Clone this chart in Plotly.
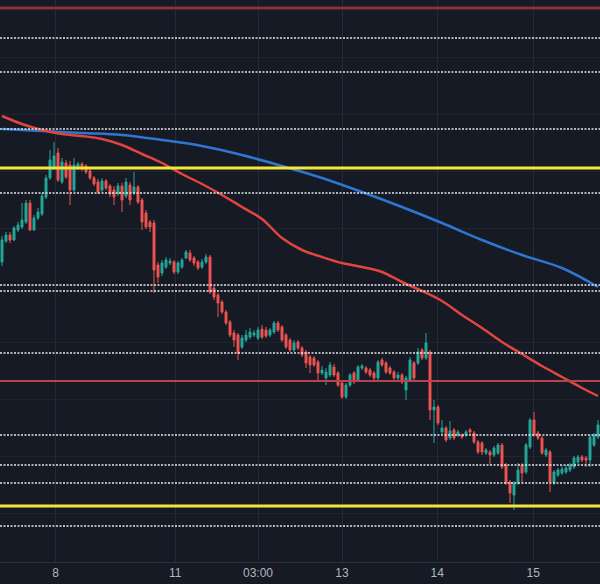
import plotly.graph_objects as go

# ---- data (price units) ----
open_ = [298,319,325,320,330,333,338,357,330,342,
         346,363,382,392,407,378,397,395,370,392,
         396,394,389,382,378,370,379,374,370,366,
         374,364,375,367,373,360,347,338,337,295,
         287,293,297,298,288,293,302,307,302,298,
         293,298,303,272,265,258,248,238,227,225,
         213,220,223,225,222,231,230,225,228,237,
         233,225,220,210,218,212,208,203,202,198,
         187,182,185,193,187,177,163,175,187,180,
         192,192,190,187,182,200,197,192,188,182,
         185,170,180,197,197,210,202,208,150,153,
         128,132,122,130,125,125,125,130,127,118,
         117,107,108,105,107,115,95,78,65,77,
         95,88,113,140,127,122,105,108,77,85,
         87,88,90,93,98,103,102,100,115,123]
high = [324,328,328,334,338,357,360,360,345,352,
        367,385,410,418,412,402,400,399,402,398,
        398,396,391,384,381,382,381,376,374,377,
        377,382,378,388,375,362,350,340,340,298,
        300,303,302,300,299,302,310,310,304,300,
        301,306,305,274,267,260,250,240,230,227,
        225,230,232,230,233,235,233,232,239,239,
        235,227,222,220,220,214,210,205,204,200,
        194,192,198,196,189,179,177,187,189,195,
        196,194,192,189,200,202,199,194,190,188,
        187,184,203,199,212,212,227,210,160,155,
        140,134,139,132,130,127,130,132,129,120,
        119,112,110,114,117,117,97,80,79,97,
        97,117,142,148,129,124,112,110,90,92,
        94,95,97,104,105,105,104,125,127,140]
low = [294,317,317,319,328,331,336,329,329,340,
       344,361,380,390,378,376,381,355,368,390,
       389,386,380,374,366,368,370,363,355,364,
       348,362,355,365,356,330,331,328,267,277,
       284,291,295,286,286,291,301,298,294,290,
       291,296,266,260,243,246,235,223,213,200,
       211,218,221,223,220,221,222,223,226,228,
       218,211,208,208,210,203,192,187,193,180,
       185,175,183,183,173,161,161,173,176,178,
       190,186,183,180,180,193,186,185,180,180,
       176,160,178,180,195,200,200,140,117,135,
       126,118,120,120,123,121,123,126,116,106,
       105,105,95,103,105,91,75,57,50,75,
       77,86,111,123,120,105,103,68,75,83,
       85,86,88,91,96,98,93,93,113,121]
close = [320,325,320,332,335,340,357,330,342,348,
         364,382,400,404,380,398,383,370,395,396,
         391,388,382,376,368,379,372,366,363,374,
         360,378,360,373,358,338,333,333,290,283,
         297,300,299,288,297,300,308,300,297,292,
         298,303,268,263,257,248,237,225,220,207,
         222,225,228,227,230,223,224,230,237,230,
         220,213,210,217,212,205,197,195,195,187,
         190,188,195,185,175,163,175,185,178,193,
         194,188,185,182,198,195,188,187,182,185,
         178,182,200,182,208,202,217,150,153,137,
         132,120,129,122,128,123,128,128,118,108,
         108,110,105,112,115,93,77,67,77,90,
         87,115,140,125,122,107,110,78,88,90,
         91,92,94,102,103,100,100,123,125,135]
bars = list(range(len(close)))

ma_fast_x = [0,5,10,15,20,25,30,35,40,45,50,55,60,65,70,75,80,85,90,95,
             100,105,110,115,120,125,130,135,140,145,149]
ma_fast = [444,436,430,426,424,421,415,406,397,386,376,365,353,341,322,310,
           303,297,293,288,278,269,259,245,232,218,206,194,183,172,164]
ma_slow_x = [0,10,20,30,40,50,60,70,80,90,100,110,120,130,140,149]
ma_slow = [431,429,427,425,420,414,405,394,382,368,353,337,320,305,292,273]

tick_pos = [13.4, 43.3, 64, 85, 108.8, 132.8]
tick_text = ["8", "11", "03:00", "13", "14", "15"]

red_levels = [552, 179]
yellow_levels = [392, 54]
dotted_levels = [522, 488, 431, 367, 275, 269, 207, 125, 95, 77, 34]

BG = "#161a25"

fig = go.Figure()
fig.add_trace(go.Candlestick(
    x=bars, open=open_, high=high, low=low, close=close,
    increasing=dict(line=dict(color="#26a69a", width=1), fillcolor="#26a69a"),
    decreasing=dict(line=dict(color="#ef5350", width=1), fillcolor="#ef5350"),
    whiskerwidth=0, showlegend=False, hoverinfo="skip"))
fig.add_trace(go.Scatter(x=ma_slow_x, y=ma_slow, mode="lines", line_shape="spline",
                         line=dict(color="#2f76d2", width=2.5), showlegend=False, hoverinfo="skip"))
fig.add_trace(go.Scatter(x=ma_fast_x, y=ma_fast, mode="lines", line_shape="spline",
                         line=dict(color="#e0463f", width=2.5), showlegend=False, hoverinfo="skip"))

shapes = []
for lv in dotted_levels:
    shapes.append(dict(type="line", xref="paper", x0=0, x1=1, yref="y", y0=lv, y1=lv,
                       line=dict(color="#e6e6e6", width=1.5, dash="2px,1.5px"), layer="above"))
for i, lv in enumerate(red_levels):
    if i == 0:
        shapes.append(dict(type="line", xref="paper", x0=0, x1=1, yref="y", y0=lv, y1=lv,
                           line=dict(color="#5a1a26", width=4), layer="above"))
        shapes.append(dict(type="line", xref="paper", x0=0, x1=1, yref="y", y0=lv, y1=lv,
                           line=dict(color="#a8585a", width=1.2), layer="above"))
    else:
        shapes.append(dict(type="line", xref="paper", x0=0, x1=1, yref="y", y0=lv, y1=lv,
                           line=dict(color="#b8434a", width=2), layer="above"))
for lv in yellow_levels:
    shapes.append(dict(type="line", xref="paper", x0=0, x1=1, yref="y", y0=lv, y1=lv,
                       line=dict(color="#f2e63c", width=3), layer="above"))

fig.update_layout(
    width=600, height=584,
    margin=dict(l=0, r=0, t=0, b=22),
    paper_bgcolor=BG, plot_bgcolor=BG,
    shapes=shapes,
    xaxis=dict(range=[-0.5, 149.5], tickvals=tick_pos, ticktext=tick_text,
               showgrid=True, gridcolor="#252a36", gridwidth=1, zeroline=False,
               showline=True, linecolor="#2b303c", linewidth=1, ticks="",
               tickfont=dict(family="Liberation Sans, Arial, sans-serif", size=12, color="#b2b5be"),
               rangeslider=dict(visible=False), fixedrange=True),
    yaxis=dict(range=[-2, 560], showticklabels=False, tick0=47, dtick=57,
               showgrid=True, gridcolor="#20242f", gridwidth=1, zeroline=False,
               fixedrange=True),
)

fig.write_html("out.html")
